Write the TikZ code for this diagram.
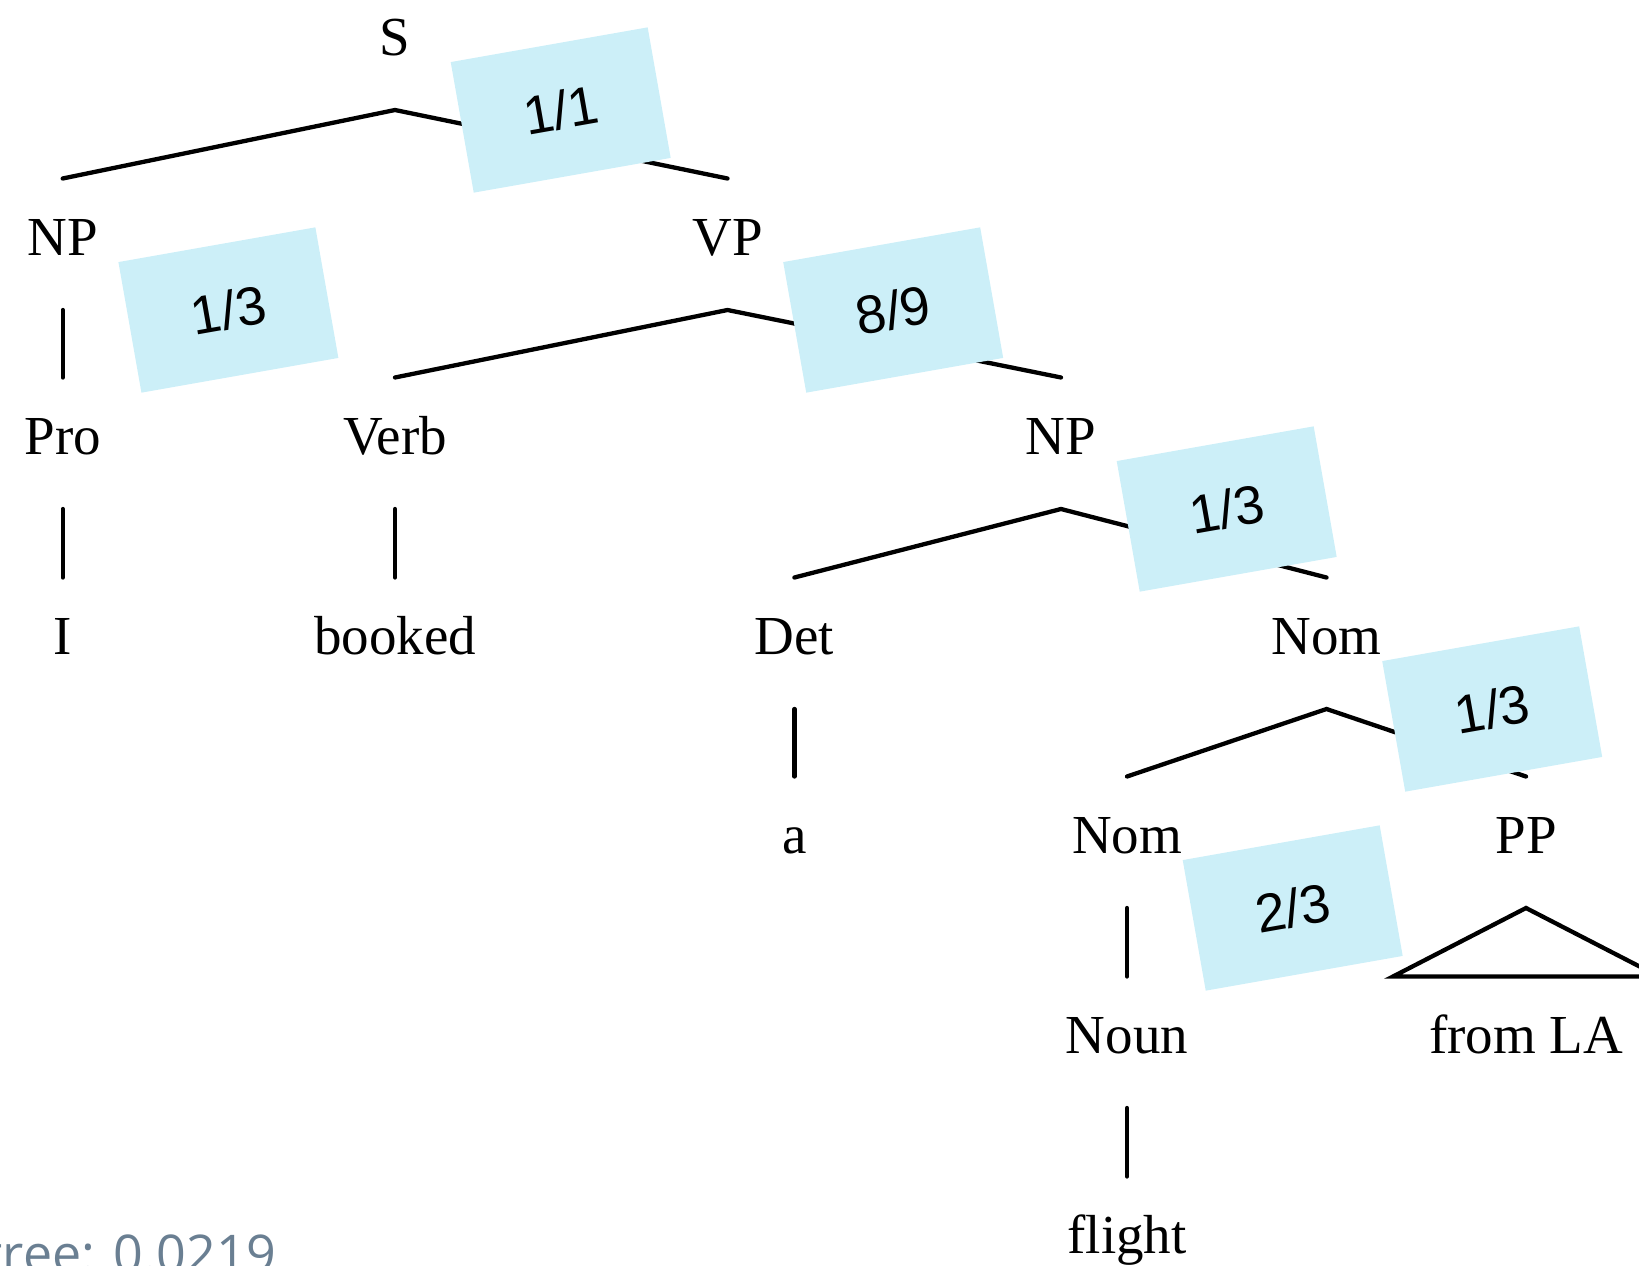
\documentclass[tikz,border=0pt]{standalone}
\usepackage{fontspec}
\setmainfont{Liberation Serif}
\newfontfamily\probfont{Liberation Sans}
\newfontfamily\notefont{Open Sans}
\usetikzlibrary{calc}
\definecolor{probfill}{RGB}{204,239,248}
\definecolor{notecol}{RGB}{106,127,146}

\begin{document}
\begin{tikzpicture}[x=1pt,y=-1pt,
  cat/.style={anchor=base,inner sep=0pt,font=\fontsize{55}{60}\selectfont},
  edge/.style={line width=4.3pt,line cap=round,line join=miter},
  prob/.style={fill=probfill,rotate=10,minimum width=200pt,minimum height=132.6pt,
    inner sep=0pt,font=\probfont\fontsize{54}{58}\selectfont},
  note/.style={anchor=base east,inner sep=0pt,text=notecol,
    font=\notefont\fontsize{52}{56}\selectfont}
]
\useasboundingbox (0,0) rectangle (1639,1266);
\clip (0,0) rectangle (1639,1266);

% tree labels, placed on their baselines
\node[cat] (S)      at (395,55)     {S};
\node[cat] (NP1)    at (62.7,255)   {NP};
\node[cat] (VP)     at (727.5,255)  {VP};
\node[cat] (Pro)    at (62.7,454)   {Pro};
\node[cat] (Verb)   at (395,454)    {Verb};
\node[cat] (NP2)    at (1061,454)   {NP};
\node[cat] (I)      at (62.7,654)   {I};
\node[cat] (booked) at (395,654)    {booked};
\node[cat] (Det)    at (794.4,654)  {Det};
\node[cat] (Nom1)   at (1326.5,654) {Nom};
\node[cat] (a)      at (794.4,853)  {a};
\node[cat] (Nom2)   at (1127,853)   {Nom};
\node[cat] (PP)     at (1526,853)   {PP};
\node[cat] (Noun)   at (1127,1053)  {Noun};
\node[cat] (fromLA) at (1526,1053)  {from LA};
\node[cat] (flight) at (1127,1253)  {flight};

% attachment points below (lo) and above (hi) each label
\foreach \n in {S,NP1,VP,Pro,Verb,NP2,I,booked,Det,Nom1,a,Nom2,PP,Noun,fromLA,flight}{
  \coordinate (\n-lo) at ($(\n.base)+(0,55)$);
  \coordinate (\n-hi) at ($(\n.base)+(0,-76.5)$);
}
\coordinate (tri-l) at ($(fromLA-hi)+(-133,0)$);
\coordinate (tri-r) at ($(fromLA-hi)+(133,0)$);

% branches
\draw[edge] (NP1-hi) -- (S-lo) -- (VP-hi);
\draw[edge] (NP1-lo) -- (Pro-hi);
\draw[edge] (Pro-lo) -- (I-hi);
\draw[edge] (Verb-hi) -- (VP-lo) -- (NP2-hi);
\draw[edge] (Verb-lo) -- (booked-hi);
\draw[edge] (Det-hi) -- (NP2-lo) -- (Nom1-hi);
\draw[edge] (Det-lo) -- (a-hi);
\draw[edge] (Nom2-hi) -- (Nom1-lo) -- (PP-hi);
\draw[edge] (Nom2-lo) -- (Noun-hi);
\draw[edge] (Noun-lo) -- (flight-hi);
\draw[edge] (PP-lo) -- (tri-l) -- (tri-r) -- cycle;

% rule probabilities
\node[prob] (pS)    at ($(S-lo)+(165.7,0)$)    {1/1};
\node[prob] (pNP1)  at ($(NP1-lo)+(165.7,0)$)  {1/3};
\node[prob] (pVP)   at ($(VP-lo)+(165.7,0)$)   {8/9};
\node[prob] (pNP2)  at ($(NP2-lo)+(165.7,0)$)  {1/3};
\node[prob] (pNom1) at ($(Nom1-lo)+(165.7,0)$) {1/3};
\node[prob] (pNom2) at ($(Nom2-lo)+(165.7,0)$) {2/3};

% tree probability
\node[note] (total) at (276,1272) {tree: 0.0219};
\end{tikzpicture}
\end{document}
